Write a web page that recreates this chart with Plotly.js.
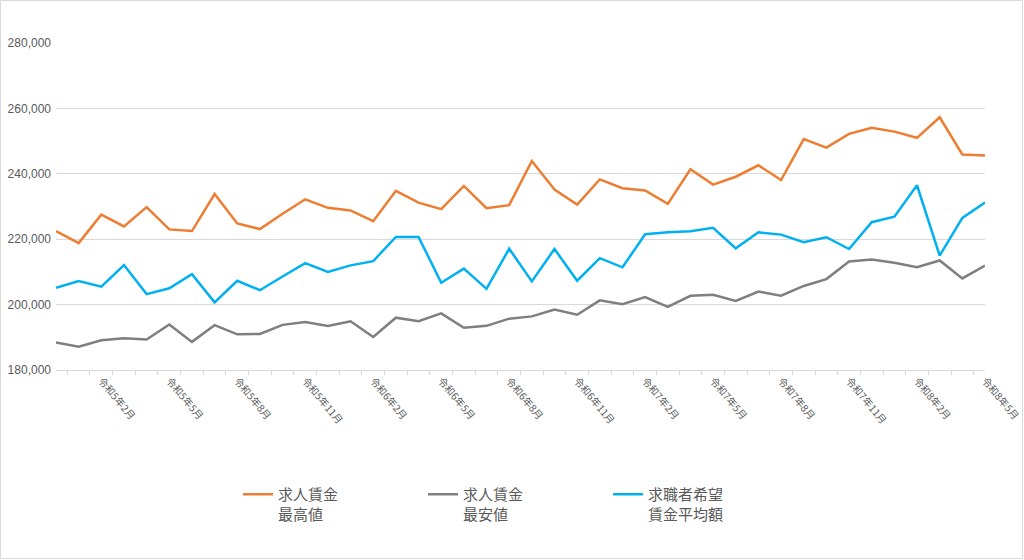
<!DOCTYPE html>
<html>
<head>
<meta charset="utf-8">
<script src="https://cdn.plot.ly/plotly-3.0.1.min.js"></script>
<style>
    body { margin: 0; background: #fff; }
    #chart { width: 1024px; height: 560px; }
</style>
</head>
<body>
<div id="chart"></div>
<script>
// months on the category axis (令和4年12月 .. 令和8年5月)
const months = [
    '令和4年12月',
    '令和5年1月', '令和5年2月', '令和5年3月', '令和5年4月', '令和5年5月', '令和5年6月',
    '令和5年7月', '令和5年8月', '令和5年9月', '令和5年10月', '令和5年11月', '令和5年12月',
    '令和6年1月', '令和6年2月', '令和6年3月', '令和6年4月', '令和6年5月', '令和6年6月',
    '令和6年7月', '令和6年8月', '令和6年9月', '令和6年10月', '令和6年11月', '令和6年12月',
    '令和7年1月', '令和7年2月', '令和7年3月', '令和7年4月', '令和7年5月', '令和7年6月',
    '令和7年7月', '令和7年8月', '令和7年9月', '令和7年10月', '令和7年11月', '令和7年12月',
    '令和8年1月', '令和8年2月', '令和8年3月', '令和8年4月', '令和8年5月'
];
// only these months get a label
const tickLabels = [
    '令和5年2月', '令和5年5月', '令和5年8月', '令和5年11月',
    '令和6年2月', '令和6年5月', '令和6年8月', '令和6年11月',
    '令和7年2月', '令和7年5月', '令和7年8月', '令和7年11月',
    '令和8年2月', '令和8年5月'
];
const seriesNames = ['求人賃金<br>最高値', '求人賃金<br>最安値', '求職者希望<br>賃金平均額'];
const wageHigh = [
    222500, 218800, 227500, 223900, 229800, 223000, 222500, 233800, 224800, 223100,
    227800, 232200, 229600, 228800, 225500, 234800, 231200, 229200, 236300, 229500,
    230400, 243900, 235200, 230600, 238300, 235600, 234900, 230800, 241400, 236700,
    239100, 242600, 238100, 250600, 248000, 252200, 254100, 252900, 251000, 257300,
    245900, 245600
];
const wageLow = [
    188400, 187100, 189100, 189700, 189300, 193900, 188600, 193700, 190900, 191000,
    193800, 194700, 193500, 194900, 190100, 196000, 194900, 197300, 192900, 193500,
    195700, 196400, 198500, 196900, 201300, 200100, 202300, 199300, 202700, 203000,
    201100, 204000, 202700, 205700, 207800, 213200, 213800, 212800, 211400, 213500,
    208000, 211900
];
const wageWanted = [
    205100, 207200, 205500, 212100, 203200, 205000, 209300, 200700, 207300, 204400,
    208600, 212700, 210000, 212000, 213300, 220700, 220700, 206700, 211000, 204800,
    217100, 207100, 217000, 207300, 214200, 211400, 221500, 222100, 222400, 223500,
    217200, 222100, 221400, 219100, 220600, 217000, 225200, 226900, 236500, 215000,
    226500, 231200
];
const colors = ['#ED7D31', '#7F7F7F', '#00B0F0'];

const textColor = '#595959';
const gridColor = '#d9d9d9';
const xIndex = months.map((m, i) => i);

function makeTrace(values, k) {
    return {
        x: xIndex,
        y: values,
        name: seriesNames[k],
        type: 'scatter',
        mode: 'lines',
        line: { color: colors[k], width: 2.5 },
        hoverinfo: 'y'
    };
}

const data = [wageHigh, wageLow, wageWanted].map(makeTrace);

// plot area in px, used for the outer frame
const L = 56, R = 39, T = 43, B = 190, W = 1024, H = 560;
const pw = W - L - R, ph = H - T - B;

const layout = {
    width: W,
    height: H,
    margin: { l: L, r: R, t: T, b: B },
    paper_bgcolor: '#fff',
    plot_bgcolor: '#fff',
    font: { family: '"Noto Sans CJK JP", "Liberation Sans", sans-serif', color: textColor },
    showlegend: true,
    legend: {
        orientation: 'h',
        x: (238 - L) / pw,
        xanchor: 'left',
        y: (ph + T - 478) / ph,
        yanchor: 'top',
        valign: 'top',
        entrywidth: 140,
        entrywidthmode: 'pixels',
        font: { family: '"Noto Sans CJK JP", sans-serif', size: 15, color: textColor },
        traceorder: 'normal'
    },
    xaxis: {
        range: [0, 41],
        showgrid: false,
        zeroline: false,
        showline: true,
        linecolor: gridColor,
        linewidth: 1,
        tickmode: 'array',
        tickvals: tickLabels.map(t => months.indexOf(t)),
        ticktext: tickLabels,
        ticks: '',
        tickangle: 50,
        tickfont: { family: '"Noto Sans CJK JP", sans-serif', size: 10, color: textColor },
        minor: { tick0: 0.5, dtick: 1, ticks: 'outside', ticklen: 4, tickcolor: gridColor, tickwidth: 1, showgrid: false },
        fixedrange: true
    },
    yaxis: {
        range: [180000, 280000],
        dtick: 20000,
        tickformat: ',d',
        showgrid: true,
        gridcolor: gridColor,
        gridwidth: 1,
        zeroline: false,
        showline: false,
        ticks: '',
        ticklabelstandoff: 4,
        tickfont: { family: '"Liberation Sans", sans-serif', size: 12, color: textColor },
        fixedrange: true
    },
    shapes: [{
        // chart frame
        type: 'rect',
        xref: 'paper', yref: 'paper',
        x0: (0.5 - L) / pw, x1: (1022.5 - L) / pw,
        y0: (T + ph - 558.5) / ph, y1: (T + ph - 0.5) / ph,
        line: { color: gridColor, width: 1 },
        fillcolor: 'rgba(0,0,0,0)',
        layer: 'below'
    }]
};

Plotly.newPlot('chart', data, layout, { displayModeBar: false, staticPlot: true });
</script>
</body>
</html>
